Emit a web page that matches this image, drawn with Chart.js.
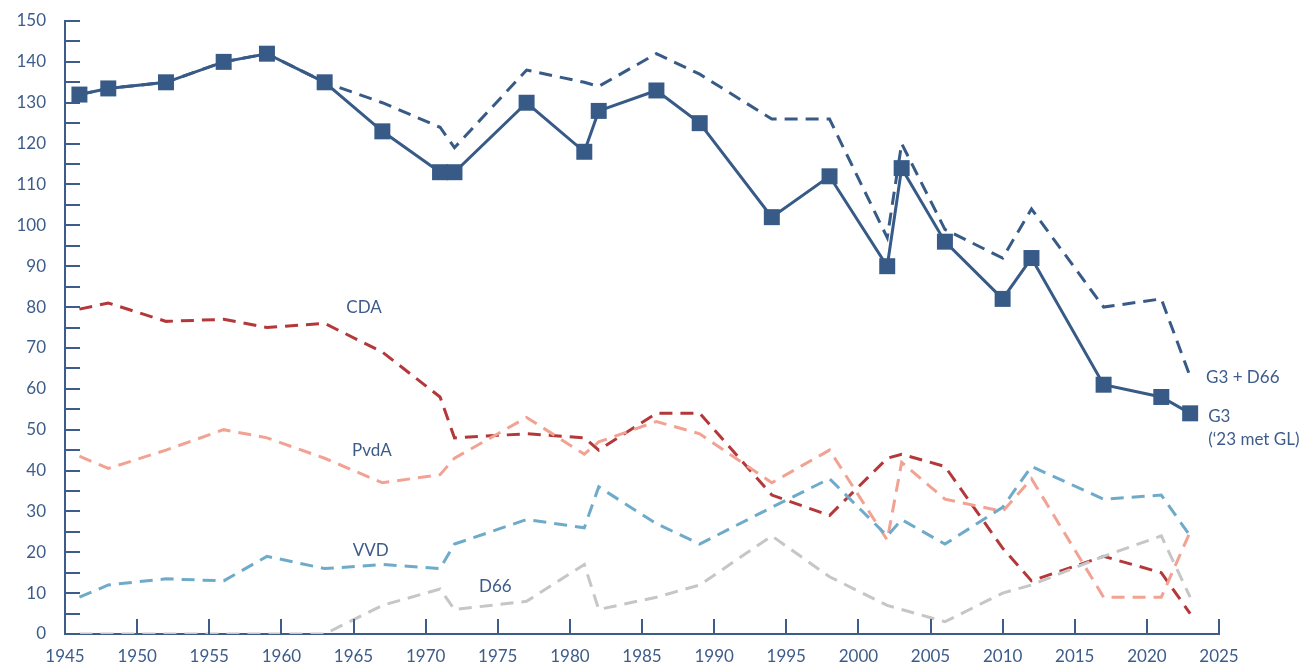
<!DOCTYPE html>
<html>
<head>
<meta charset="utf-8">
<script src="https://cdn.jsdelivr.net/npm/chart.js@4.4.0/dist/chart.umd.min.js"></script>
<style>
  html, body { margin: 0; padding: 0; background: #fff; }
  #wrap { width: 1310px; height: 668px; }
</style>
</head>
<body>
<div id="wrap"><canvas id="myChart"></canvas></div>
<script>
// verkiezingsjaren
const years = [1946, 1948, 1952, 1956, 1959, 1963, 1967, 1971, 1972, 1977, 1981, 1982, 1986, 1989, 1994, 1998, 2002, 2003, 2006, 2010, 2012, 2017, 2021, 2023]

// zetels (omgerekend naar 150)
const g3 = [132, 133.5, 135, 140, 142, 135, 123, 113, 113, 130, 118, 128, 133, 125, 102, 112, 90, 114, 96, 82, 92, 61, 58, 54]
const g3d66 = [132, 133.5, 135, 140, 142, 135, 130, 124, 119, 138, 135, 134, 142, 137, 126, 126, 97, 120, 99, 92, 104, 80, 82, 63]
const cda = [79.5, 81, 76.5, 77, 75, 76, 69, 58, 48, 49, 48, 45, 54, 54, 34, 29, 43, 44, 41, 21, 13, 19, 15, 5]
const pvda = [43.5, 40.5, 45, 50, 48, 43, 37, 39, 43, 53, 44, 47, 52, 49, 37, 45, 23, 42, 33, 30, 38, 9, 9, 25]
const vvd = [9, 12, 13.5, 13, 19, 16, 17, 16, 22, 28, 26, 36, 27, 22, 31, 38, 24, 28, 22, 31, 41, 33, 34, 24]
const d66 = [0, 0, 0, 0, 0, 0, 7, 11, 6, 8, 17, 6, 9, 12, 24, 14, 7, 6, 3, 10, 12, 19, 24, 9]

// labels in de grafiek
const labelTexts = ['CDA', 'PvdA', 'VVD', 'D66', 'G3 + D66', 'G3', "(‘23 met GL)"]
const labelYears = [1964.5, 1964.9, 1964.95, 1973.7, 2024.1, 2024.25, 2024.25]
const labelValues = [80, 45, 20.5, 11.6, 62.8, 53.2, 47.6]

const axisColor = '#3d5c8a'
const fontFamily = 'Lato, "Open Sans", sans-serif'

function toPoints(values) {
    return years.map((year, i) => ({ x: year, y: values[i] }))
}

function dashed(label, values, color) {
    return {
        label: label,
        data: toPoints(values),
        borderColor: color,
        borderWidth: 3,
        borderDash: [13, 8],
        pointRadius: 0,
        pointHoverRadius: 0,
        fill: false,
        tension: 0,
    }
}

/**
 * tekent de streepjes binnen het grafiekvlak en de tekstlabels
 */
const innerTicks = {
    id: 'innerTicks',
    afterDatasetsDraw(chart) {
        const ctx = chart.ctx
        const area = chart.chartArea
        const xScale = chart.scales.x
        const yScale = chart.scales.y
        ctx.save()
        ctx.strokeStyle = axisColor
        ctx.lineWidth = 2
        yScale.ticks.forEach(t => {
            const y = Math.round(yScale.getPixelForValue(t.value))
            ctx.beginPath()
            ctx.moveTo(area.left, y)
            ctx.lineTo(area.left + 15, y)
            ctx.stroke()
        })
        xScale.ticks.forEach(t => {
            const x = Math.round(xScale.getPixelForValue(t.value))
            ctx.beginPath()
            ctx.moveTo(x, area.bottom)
            ctx.lineTo(x, area.bottom - 15)
            ctx.stroke()
        })
        ctx.fillStyle = axisColor
        ctx.font = '17px ' + fontFamily
        ctx.textBaseline = 'middle'
        ctx.textAlign = 'left'
        labelTexts.forEach((text, i) => {
            ctx.fillText(text, xScale.getPixelForValue(labelYears[i]), yScale.getPixelForValue(labelValues[i]))
        })
        ctx.restore()
    }
}

const ctx = document.getElementById('myChart')

new Chart(ctx, {
    type: 'line',
    data: {
        datasets: [
            {
                label: 'G3',
                data: toPoints(g3),
                borderColor: '#375a87',
                backgroundColor: '#375a87',
                borderWidth: 3,
                pointStyle: 'rect',
                pointRadius: 11.3,
                pointHoverRadius: 11.3,
                pointBorderWidth: 0,
                tension: 0,
            },
            dashed('G3 + D66', g3d66, '#375a87'),
            dashed('CDA', cda, '#b4383a'),
            dashed('PvdA', pvda, '#f2a293'),
            dashed('VVD', vvd, '#6eabca'),
            dashed('D66', d66, '#c6c6c6'),
        ].reverse(),
    },
    options: {
        responsive: true,
        maintainAspectRatio: false,
        animation: false,
        layout: {
            padding: { top: 21, right: 91, left: 0, bottom: 0 }
        },
        scales: {
            x: {
                type: 'linear',
                min: 1945,
                max: 2025,
                afterFit: scale => {
                    scale.height = 34
                    scale.paddingLeft = 0
                    scale.paddingRight = 0
                },
                border: { display: true, color: axisColor, width: 2 },
                grid: { display: true, drawOnChartArea: false, drawTicks: false },
                ticks: {
                    stepSize: 5,
                    color: axisColor,
                    padding: 12,
                    maxRotation: 0,
                    font: { family: fontFamily, size: 17 },
                    callback: value => String(value)
                }
            },
            y: {
                min: 0,
                max: 150,
                afterFit: scale => {
                    scale.width = 65
                    scale.paddingTop = 0
                    scale.paddingBottom = 0
                },
                border: { display: true, color: axisColor, width: 2 },
                grid: { display: true, drawOnChartArea: false, drawTicks: false },
                ticks: {
                    stepSize: 5,
                    color: axisColor,
                    padding: 19,
                    autoSkip: false,
                    font: { family: fontFamily, size: 17 },
                    callback: value => value % 10 === 0 ? String(value) : ''
                }
            }
        },
        plugins: {
            legend: { display: false },
            tooltip: { enabled: false }
        }
    },
    plugins: [innerTicks]
});
</script>
</body>
</html>
